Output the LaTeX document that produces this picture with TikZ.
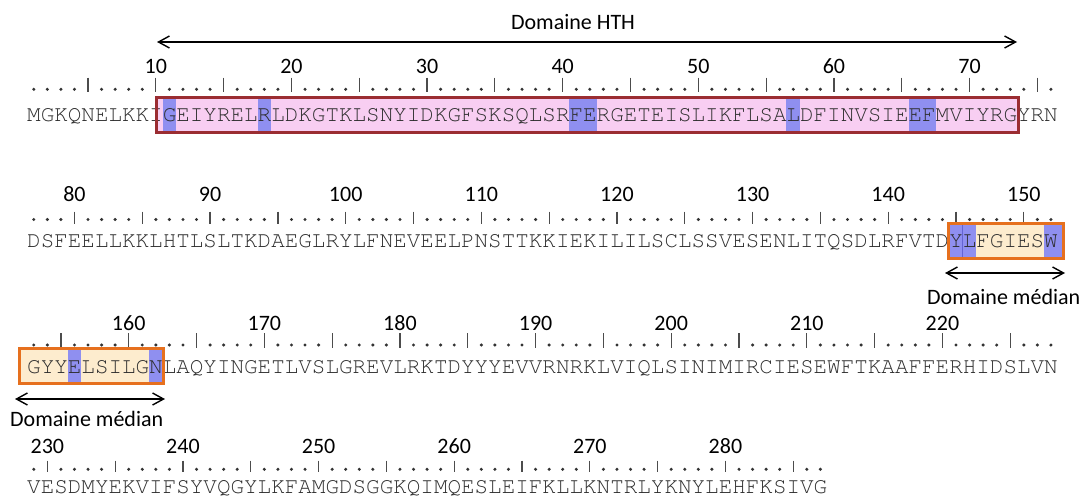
\documentclass[tikz,border=0pt]{standalone}
\usepackage{fontspec}
\setmainfont{Carlito}
\newfontfamily\seqfont{texgyrecursor}[Extension=.otf, UprightFont=*-regular]
\usetikzlibrary{arrows.meta}
\definecolor{hthfill}{RGB}{248,206,242}
\definecolor{hthborder}{RGB}{155,45,50}
\definecolor{hl}{RGB}{143,143,240}
\definecolor{hldark}{RGB}{100,100,210}
\definecolor{medborder}{RGB}{230,112,30}
\definecolor{medfill}{RGB}{253,236,206}
\definecolor{seqgray}{RGB}{45,45,45}
\newcommand{\cw}{13.562}
% ruler: #1 start residue, #2 last index, #3 dot y, #4 bar top, #5 bar bottom, #6 label baseline
\newcommand{\rulerline}[6]{%
  \foreach \k in {0,...,#2}{%
    \pgfmathtruncatemacro{\rr}{#1+\k}%
    \pgfmathsetmacro{\xx}{27+(\k+0.5)*\cw}%
    \pgfmathtruncatemacro{\mf}{mod(\rr,5)}%
    \pgfmathtruncatemacro{\mt}{mod(\rr,10)}%
    \ifnum\mf=0
      \draw[tickmark] (\xx,#4) -- (\xx,#5);
    \else
      \fill[dotmark] (\xx,#3) circle[radius=1.7pt];
    \fi
    \ifnum\mt=0
      \node[num] (lab\rr) at (\xx,#6) {\rr};
    \fi
  }%
}
% highlight cell range: #1 first index, #2 last index, #3 top, #4 bottom
\newcommand{\hlcells}[4]{%
  \fill[hl] ({27+#1*\cw},#3) rectangle ({27+(#2+1)*\cw},#4);%
}
\begin{document}
\begin{tikzpicture}[x=1pt,y=-1pt,
  seq/.style={anchor=base west, inner sep=0pt, font=\seqfont\fontsize{22.6}{24}\selectfont, text=seqgray},
  num/.style={anchor=base, inner sep=0pt, font=\fontsize{22}{24}\selectfont},
  lbl/.style={inner sep=0pt, font=\fontsize{22}{24}\selectfont},
  tickmark/.style={draw=black!70, line width=1.2pt},
  dotmark/.style={fill=black!80},
  darrow/.style={{Straight Barb[length=11pt,width=12pt]}-{Straight Barb[length=11pt,width=12pt]}, line width=1.4pt},
  hthbox/.style={draw=hthborder, line width=3pt},
  medbox/.style={draw=medborder, line width=3pt}
]
\useasboundingbox (0,0) rectangle (1083,495);
\fill[white] (0,0) rectangle (1083,495);

% ---------- title HTH ----------
\node[lbl, anchor=base] (hthlabel) at (573,29.5) {Domaine HTH};
\coordinate (hthL) at (157,42);
\coordinate (hthR) at (1017,42);
\draw[darrow] (hthL) -- (hthR);

% ---------- line 1 ----------
\fill[hthfill] (156,97.5) rectangle (1018,132.5);
\hlcells{10}{10}{99}{131}
\hlcells{17}{17}{99}{131}
\hlcells{40}{41}{99}{131}
\hlcells{56}{56}{99}{131}
\hlcells{65}{66}{99}{131}
\rulerline{1}{75}{89.3}{77.5}{92.3}{74}
\node[seq] (s1) at (27,121.5) {MGKQNELKKIGEIYRELRLDKGTKLSNYIDKGFSKSQLSRFERGETEISLIKFLSALDFINVSIEEFMVIYRGYRN};
\draw[hthbox] (156,97.5) rectangle (1018,132.5);

% ---------- line 2 ----------
\fill[medfill] (948,223) rectangle (1063,258);
\hlcells{68}{69}{224.5}{256.5}
\fill[hl] ({27+75*\cw},224.5) rectangle (1061.5,256.5);
\draw[hldark, line width=0.6pt] ({27+69*\cw},224.5) -- ({27+69*\cw},256.5);
\rulerline{77}{75}{219.5}{211.5}{223.5}{201.5}
\node[seq] (s2) at (27,247.5) {DSFEELLKKLHTLSLTKDAEGLRYLFNEVEELPNSTTKKIEKILILSCLSSVESENLITQSDLRFVTDYLFGIESW};
\draw[medbox] (948,223) rectangle (1063,258);
\coordinate (m1L) at (945,273);
\coordinate (m1R) at (1065,273);
\draw[darrow] (m1L) -- (m1R);
\node[lbl, anchor=base west] (m1label) at (927,304) {Domaine médian};

% ---------- line 3 ----------
\fill[medfill] (19,348.5) rectangle (163,383);
\hlcells{3}{3}{350}{381.5}
\hlcells{9}{9}{350}{381.5}
\rulerline{153}{75}{345}{333.3}{348}{330}
\node[seq] (s3) at (27,373) {GYYELSILGNLAQYINGETLVSLGREVLRKTDYYYEVVRNRKLVIQLSINIMIRCIESEWFTKAAFFERHIDSLVN};
\draw[medbox] (19,348.5) rectangle (163,383);
\coordinate (m2L) at (15,399);
\coordinate (m2R) at (165,399);
\draw[darrow] (m2L) -- (m2R);
\node[lbl, anchor=base west] (m2label) at (10,426.5) {Domaine médian};

% ---------- line 4 ----------
\rulerline{229}{58}{469.3}{460.7}{472.3}{453.5}
\node[seq] (s4) at (27,493) {VESDMYEKVIFSYVQGYLKFAMGDSGGKQIMQESLEIFKLLKNTRLYKNYLEHFKSIVG};
\end{tikzpicture}
\end{document}
